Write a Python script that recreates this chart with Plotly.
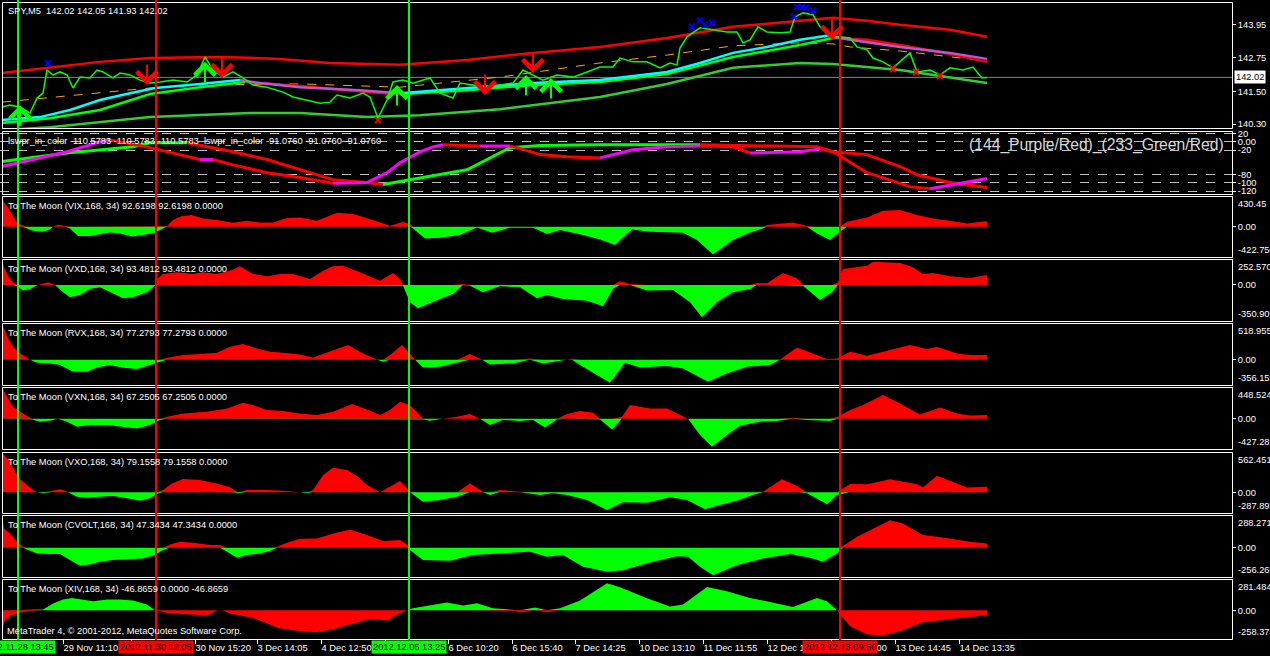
import plotly.graph_objects as go

W, H = 1270, 656
RED = "#FF0000"
LIME = "#00FF00"
FONT = "Liberation Sans, Arial, sans-serif"
FS = 9.3

# ---------------- main panel: SPY M5 ----------------
price_x = [2, 10, 20, 30, 37, 43, 47, 53, 60, 67, 73, 80, 90, 97, 103, 113, 120, 130, 140, 150,
           160, 173, 187, 197, 205, 213, 223, 233, 243, 253, 267, 283, 293, 307, 320, 330, 337, 350, 363, 370,
           378, 387, 393, 403, 413, 430, 440, 453, 460, 473, 487, 500, 513, 523, 533, 543, 557, 573, 587, 600,
           613, 620, 633, 647, 660, 670, 677, 680, 687, 700, 713, 727, 737, 743, 750, 758, 767, 780, 790, 795,
           803, 813, 820, 830, 840, 850, 857, 867, 873, 883, 893, 910, 917, 930, 940, 950, 963, 973, 982, 987]
price_y = [140.93, 141.00, 140.93, 140.71, 141.26, 141.44, 142.29, 142.11, 142.22, 142.11,
           141.63, 142.03, 142.00, 142.29, 142.22, 142.00, 142.18, 142.11, 141.92, 141.81,
           141.85, 141.92, 141.85, 142.11, 142.77, 142.29, 142.03, 142.22, 142.00, 141.74,
           141.66, 141.48, 141.30, 141.19, 141.07, 141.11, 141.37, 141.26, 141.44, 141.30,
           140.52, 141.19, 141.85, 141.92, 141.81, 142.00, 141.44, 141.26, 141.81, 141.74,
           141.66, 141.74, 141.81, 142.29, 142.11, 141.92, 142.11, 142.03, 142.22, 142.40,
           142.40, 142.73, 142.59, 142.59, 142.37, 142.55, 142.48, 143.10, 143.51, 143.84,
           143.77, 143.69, 143.69, 143.29, 143.40, 143.88, 143.69, 143.66, 143.69, 144.25,
           144.39, 144.32, 143.88, 143.51, 143.51, 143.47, 143.14, 143.03, 142.73, 142.59,
           142.37, 142.92, 142.22, 142.29, 142.11, 142.37, 142.29, 142.40, 142.00, 142.02]

band_hi_x = [2, 50, 100, 150, 220, 280, 330, 400, 467, 533, 600, 667, 733, 800, 833, 867, 900, 950, 987]
band_hi_y = [142.18, 142.37, 142.59, 142.73, 142.77, 142.70, 142.55, 142.48, 142.66, 142.92,
             143.14, 143.47, 143.88, 144.10, 144.21, 144.10, 143.95, 143.77, 143.51]

fast_x = [2, 40, 70, 100, 130, 155, 200, 240, 260, 300, 360, 400, 467, 533, 600, 667, 700, 733,
          767, 800, 827, 850, 900, 950, 987]
fast_y = [140.45, 140.56, 140.82, 141.19, 141.44, 141.63, 141.78, 141.92, 141.81, 141.66, 141.55,
          141.44, 141.63, 141.81, 141.92, 142.22, 142.55, 142.92, 143.14, 143.40, 143.55, 143.40,
          143.14, 142.92, 142.70]

mid_x = [2, 50, 100, 150, 200, 245, 300, 367, 400, 467, 533, 600, 667, 733, 767, 800, 833, 867, 900, 950, 987]
mid_y = [140.34, 140.52, 140.82, 141.41, 141.66, 141.85, 141.70, 141.48, 141.40, 141.55, 141.74,
         141.85, 142.14, 142.77, 142.99, 143.21, 143.47, 143.40, 143.21, 142.88, 142.59]

slow_x = [2, 100, 150, 200, 300, 400, 500, 600, 667, 733, 800, 833, 850, 900, 987]
slow_y = [141.11, 141.44, 141.63, 141.74, 141.78, 141.66, 142.03, 142.55, 142.84, 143.18, 143.29,
          143.25, 143.14, 142.99, 142.62]

band_lo_x = [2, 50, 150, 250, 300, 367, 420, 500, 600, 667, 733, 800, 833, 900, 987]
band_lo_y = [140.08, 140.19, 140.56, 140.71, 140.71, 140.56, 140.63, 140.85, 141.30, 141.78, 142.37,
             142.55, 142.51, 142.29, 141.81]

arrow_dn_x = [147, 222, 485, 533, 832]
arrow_dn_y = [141.74, 142.00, 141.37, 142.18, 143.40]
arrow_up_x = [20, 205, 397, 526, 551]
arrow_up_y = [141.00, 142.59, 141.74, 142.11, 142.00]
blue_x = [48, 692, 700, 705, 712, 794, 797, 802, 806, 813]
blue_y = [142.55, 143.88, 144.10, 143.95, 144.02, 144.25, 144.61, 144.61, 144.58, 144.47]
redx_x = [378, 893, 916, 940]
redx_y = [140.45, 142.33, 142.22, 142.07]

price_ticks = [143.95, 142.75, 141.50, 140.30]
last_price = 142.02

# ---------------- WPR panel ----------------
wpr_fast_x = [2, 33, 67, 100, 110, 150, 200, 213, 233, 267, 300, 333, 367, 387, 400, 420, 433, 443, 480,
              510, 517, 540, 567, 600, 633, 667, 700, 733, 750, 800, 820, 833, 867, 900, 910, 930, 960, 987]
wpr_fast_y = [-60, -43, -24, 0, 5, -14, -43, -43, -56, -75, -87, -101, -99, -75, -51, -24, -12, -7, -10,
              -10, -14, -31, -36, -39, -19, -12, -10, -12, -27, -24, -17, -24, -75, -101, -109, -114, -101, -89]
wpr_slow_x = [2, 67, 133, 150, 187, 233, 267, 300, 333, 367, 383, 400, 420, 467, 510, 540, 600, 700,
              760, 817, 833, 867, 900, 917, 950, 987]
wpr_slow_y = [-48, -27, -12, -2, -2, -24, -43, -68, -92, -99, -104, -97, -89, -68, -14, -9, -7, -7,
              -9, -12, -24, -31, -60, -80, -99, -111]
wpr_levels = [20, 0, -20, -80, -100, -120]
wpr_labels = ["20", "0.00", "-20", "-80", "-100", "-120"]

# ---------------- To The Moon panels ----------------
vix_x = [2, 4, 8, 12, 17, 22, 27, 33, 43, 50, 53, 58, 65, 70, 78, 90, 100, 110, 120, 132, 143, 155, 163,
         167, 173, 182, 192, 203, 217, 233, 247, 260, 273, 287, 300, 317, 337, 353, 373, 390, 403, 410, 413,
         425, 440, 460, 477, 492, 510, 533, 547, 560, 583, 600, 615, 632, 650, 667, 683, 697, 713, 733, 750,
         763, 767, 793, 807, 817, 830, 840, 847, 867, 883, 900, 917, 933, 950, 967, 987]
vix_v = [425, 340, 270, 170, 56, 24, -24, -56, -70, -38, 0, 28, 10, -24, -130, -130, -102, -80, -94, -136,
         -116, -84, -24, 10, 94, 150, 164, 116, 94, 56, 84, 60, 60, 122, 130, 84, 196, 178, 94, 14, 66, 38,
         -24, -164, -154, -116, -10, -84, -14, -14, -102, -46, -116, -178, -256, -38, -70, -80, -84, -186,
         -388, -186, -80, -24, 24, 60, 10, -94, -186, -70, 70, 130, 224, 234, 164, 116, 84, 46, 80]

vxd_x = [2, 4, 8, 13, 17, 23, 30, 38, 48, 55, 63, 70, 80, 90, 100, 110, 123, 133, 147, 155, 157, 163, 177,
         193, 203, 217, 230, 240, 253, 267, 280, 293, 310, 323, 333, 343, 360, 380, 393, 400, 403, 410, 418,
         440, 453, 463, 470, 483, 500, 520, 537, 547, 563, 587, 603, 613, 620, 630, 647, 673, 690, 702, 717,
         733, 750, 757, 767, 783, 797, 803, 820, 832, 838, 843, 867, 873, 900, 913, 923, 933, 950, 970, 987]
vxd_v = [250, 172, 90, 26, -13, -55, -39, 0, 26, 0, -71, -120, -97, -39, -22, -71, -129, -120, -71, -7,
         58, 107, 124, 107, 124, 107, 139, 182, 107, 85, 107, 107, 58, 139, 182, 188, 124, 42, 117, 58,
         -7, -168, -227, -136, -88, 10, -7, -71, -13, -22, -129, -97, -136, -153, -207, -39, 36, 10, -55,
         -49, -168, -314, -168, -71, -39, 19, 17, 117, 65, -7, -146, -71, 26, 156, 188, 227, 214, 172, 107,
         117, 85, 68, 97]

rvx_x = [2, 4, 8, 13, 18, 23, 30, 37, 50, 60, 73, 87, 97, 110, 123, 137, 150, 160, 167, 183, 200, 217,
         230, 243, 257, 270, 283, 300, 313, 330, 348, 363, 377, 383, 390, 402, 410, 415, 423, 440, 457, 470,
         482, 490, 513, 530, 543, 567, 572, 580, 593, 610, 625, 640, 667, 683, 700, 708, 727, 747, 770, 780,
         797, 810, 827, 837, 850, 867, 883, 910, 927, 937, 957, 970, 987]
rvx_v = [515, 442, 300, 183, 113, 66, 0, -42, -52, -75, -169, -169, -109, -75, -113, -131, -75, -28, 28,
         66, 80, 99, 183, 222, 159, 113, 99, 75, 33, 113, 207, 89, 4, -28, 66, 207, 89, 0, -109, -99, -42,
         80, 0, -66, -52, 18, -52, 0, 18, -75, -183, -325, -42, -109, -89, -123, -250, -310, -193, -99, -75,
         4, 174, 99, 10, 18, 113, 56, 113, 207, 151, 183, 89, 66, 66]

vxn_x = [2, 4, 7, 13, 20, 27, 32, 40, 50, 58, 67, 77, 90, 107, 123, 137, 150, 160, 167, 183, 207, 227,
         243, 253, 267, 283, 300, 317, 333, 352, 367, 380, 390, 400, 410, 423, 430, 443, 457, 470, 480, 490,
         503, 520, 533, 545, 557, 567, 580, 593, 600, 612, 622, 630, 650, 667, 688, 700, 712, 727, 740, 760,
         777, 793, 807, 830, 838, 850, 863, 883, 900, 920, 940, 957, 970, 987]
vxn_v = [440, 380, 311, 170, 99, 38, -10, -42, -28, 0, -42, -113, -89, -89, -113, -137, -89, -18, 28, 75,
         99, 146, 226, 194, 123, 109, 75, 52, 99, 208, 131, 52, 123, 240, 194, -10, -28, 0, 28, 66, 0, -89,
         -18, -32, -18, -123, -10, 66, 109, 85, -10, -151, 28, 194, 146, 146, 0, -230, -396, -230, -99, -42,
         -32, 14, -18, -32, 28, 123, 194, 335, 216, 61, 160, 75, 47, 52]

vxo_x = [2, 4, 10, 15, 20, 27, 33, 37, 43, 52, 60, 68, 77, 87, 100, 113, 127, 140, 150, 157, 163, 172,
         183, 200, 217, 230, 238, 247, 267, 283, 300, 307, 313, 323, 333, 347, 358, 367, 380, 390, 400, 410,
         423, 440, 457, 470, 483, 490, 500, 520, 540, 553, 567, 587, 607, 623, 647, 670, 687, 705, 720, 737,
         753, 763, 782, 797, 807, 827, 837, 850, 867, 890, 917, 923, 937, 950, 967, 987]
vxo_v = [555, 520, 428, 289, 185, 102, 32, 0, -14, 24, 42, 10, -60, -74, -60, -52, -84, -116, -84, -24,
         32, 125, 185, 171, 125, 70, -14, 32, 32, 24, 0, -14, 32, 240, 345, 311, 219, 102, 0, 79, 158, 10,
         -130, -107, -60, 125, 10, -38, 32, 10, -38, -14, -38, -107, -247, -139, -144, -70, -107, -237, -177,
         -116, -38, 10, 181, 88, -14, -167, -38, 116, 112, 181, 112, 70, 233, 163, 66, 79]

cvolt_x = [2, 4, 10, 17, 23, 27, 37, 50, 60, 70, 80, 90, 100, 113, 130, 143, 155, 163, 170, 180, 193,
           210, 220, 227, 237, 247, 260, 270, 277, 287, 300, 317, 333, 350, 367, 383, 400, 407, 410, 423,
           450, 473, 500, 530, 547, 563, 583, 607, 623, 650, 677, 688, 700, 713, 737, 763, 790, 810, 823,
           837, 843, 857, 890, 903, 923, 950, 970, 987]
cvolt_v = [285, 169, 126, 53, 9, -15, -50, -55, -55, -108, -158, -147, -123, -108, -99, -94, -64, -20, 29,
           53, 44, 24, 24, -35, -88, -64, -50, -29, 9, 44, 80, 82, 126, 161, 112, 61, 68, 29, -20, -108,
           -114, -64, -50, -35, -79, -64, -167, -211, -196, -130, -73, -79, -167, -240, -152, -94, -55, -88,
           -123, -50, 15, 97, 243, 213, 112, 82, 53, 38]

xiv_x = [2, 4, 10, 20, 30, 38, 43, 53, 63, 72, 80, 93, 107, 120, 133, 147, 155, 167, 187, 207, 217, 222,
         230, 243, 253, 265, 278, 300, 317, 333, 353, 370, 387, 400, 407, 413, 433, 447, 463, 477, 493, 513,
         520, 535, 547, 560, 580, 607, 620, 647, 670, 683, 700, 707, 727, 750, 770, 793, 817, 827, 837, 850,
         867, 883, 900, 923, 950, 983, 987]
xiv_v = [-255, -110, -50, -20, -8, 0, 6, 60, 96, 111, 102, 81, 96, 96, 87, 51, 0, -24, -39, -48, -3, 6,
         -30, -54, -70, -110, -160, -189, -198, -171, -117, -78, -93, -27, 0, 18, 48, 69, 42, 63, 18, -6,
         -21, 24, -18, 18, 87, 243, 207, 108, 33, 52, 168, 210, 171, 111, 75, 30, 111, 81, 0, -144, -219,
         -228, -189, -108, -78, -48, -48]

moon_names = ["VIX", "VXD", "RVX", "VXN", "VXO", "CVOLT", "XIV"]
moon_values = ["92.6198 92.6198 0.0000", "93.4812 93.4812 0.0000", "77.2793 77.2793 0.0000",
               "67.2505 67.2505 0.0000", "79.1558 79.1558 0.0000", "47.3434 47.3434 0.0000",
               "-46.8659 0.0000 -46.8659"]
moon_max = ["430.45", "252.570", "518.955", "448.524", "562.451", "288.271", "281.484"]
moon_min = ["-422.750", "-350.909", "-356.159", "-427.282", "-287.893", "-256.265", "-258.373"]
moon_series = [(vix_x, vix_v), (vxd_x, vxd_v), (rvx_x, rvx_v), (vxn_x, vxn_v),
               (vxo_x, vxo_v), (cvolt_x, cvolt_v), (xiv_x, xiv_v)]

# ---------------- time axis ----------------
time_ticks = [63, 131, 195, 257, 321, 385, 448, 512, 575, 639, 703, 767, 831, 895, 959]
time_labels = ["29 Nov 11:10", "", "30 Nov 15:20", "3 Dec 14:05", "4 Dec 12:50", "", "6 Dec 10:20",
               "6 Dec 15:40", "7 Dec 14:25", "10 Dec 13:10", "11 Dec 11:55", "12 Dec 10:40",
               "13 Dec 09:00", "13 Dec 14:45", "14 Dec 13:35"]
vline_x = [18, 156, 409, 840]
vline_color = [LIME, RED, LIME, RED]
vline_text = ["2012.11.28 13:45", "2012.11.30 12:05", "2012.12.05 13:25", "2012.12.13 09:50"]

# panel rows in pixels (top, bottom)
rows = [(2, 128), (131, 194), (196, 257), (259, 321), (323, 385), (387, 449), (452, 513), (515, 577), (579, 639)]


def dom(top, bottom):
    return [1 - bottom / H, 1 - top / H]


def runs(xs, ys, up, down, width, yaxis):
    # split a line into rising / falling pieces with different colours
    out = []
    i = 0
    while i < len(xs) - 1:
        rising = ys[i + 1] >= ys[i]
        j = i + 1
        while j < len(xs) - 1 and (ys[j + 1] >= ys[j]) == rising:
            j += 1
        out.append(go.Scatter(x=xs[i:j + 1], y=ys[i:j + 1], mode="lines",
                              line=dict(color=up if rising else down, width=width), yaxis=yaxis))
        i = j
    return out


fig = go.Figure()

# main panel
fig.add_trace(go.Scatter(x=band_lo_x, y=band_lo_y, mode="lines", line=dict(color="#32CD32", width=2.5), yaxis="y"))
fig.add_trace(go.Scatter(x=slow_x, y=slow_y, mode="lines", line=dict(color="#FFA500", width=1, dash="dash"), yaxis="y"))
for t in runs(mid_x, mid_y, LIME, RED, 2.5, "y"):
    fig.add_trace(t)
for t in runs(fast_x, fast_y, "#00FFFF", "#BA55D3", 2.5, "y"):
    fig.add_trace(t)
fig.add_trace(go.Scatter(x=band_hi_x, y=band_hi_y, mode="lines", line=dict(color=RED, width=2.5), yaxis="y"))
fig.add_trace(go.Scatter(x=price_x, y=price_y, mode="lines", line=dict(color=LIME, width=1.5), yaxis="y"))
fig.add_trace(go.Scatter(x=blue_x, y=blue_y, mode="markers", yaxis="y",
                         marker=dict(symbol="x-thin", size=6, line=dict(color="#0000FF", width=2))))
fig.add_trace(go.Scatter(x=redx_x, y=redx_y, mode="markers", yaxis="y",
                         marker=dict(symbol="x-thin", size=6, line=dict(color=RED, width=2))))

# WPR panel
for t in runs(wpr_slow_x, wpr_slow_y, LIME, RED, 3, "y2"):
    fig.add_trace(t)
for t in runs(wpr_fast_x, wpr_fast_y, "#FF00FF", RED, 3, "y2"):
    fig.add_trace(t)

# To The Moon panels: filled histograms
for k, (xs, vs) in enumerate(moon_series):
    ya = "y%d" % (k + 3)
    up_c, dn_c = (LIME, RED) if moon_names[k] == "XIV" else (RED, LIME)
    fig.add_trace(go.Scatter(x=xs, y=[max(v, 0) for v in vs], mode="lines", fill="tozeroy",
                             fillcolor=up_c, line=dict(width=0, color=up_c), yaxis=ya))
    fig.add_trace(go.Scatter(x=xs, y=[min(v, 0) for v in vs], mode="lines", fill="tozeroy",
                             fillcolor=dn_c, line=dict(width=0, color=dn_c), yaxis=ya))

tickfont = dict(family=FONT, size=FS, color="white")
layout = dict(
    width=W, height=H, template="none", margin=dict(l=0, r=0, t=0, b=0),
    paper_bgcolor="black", plot_bgcolor="black", showlegend=False, hovermode=False,
    font=dict(family=FONT, size=FS, color="white"),
    xaxis=dict(domain=[0, 1232 / W], range=[0, 1232], anchor="y9", showgrid=False, zeroline=False,
               showline=False, ticks="outside", ticklen=4, tickcolor="white", tickwidth=1,
               tickvals=time_ticks, ticktext=time_labels, ticklabelposition="outside right",
               tickangle=0, tickfont=tickfont, fixedrange=True),
)
yax_common = dict(side="right", anchor="x", showgrid=False, zeroline=False, showline=False,
                  ticks="outside", ticklen=3, tickcolor="white", tickfont=tickfont, fixedrange=True)

layout["yaxis"] = dict(yax_common, domain=dom(*rows[0]), range=[140.16, 144.79],
                       tickvals=price_ticks, ticktext=["%.2f" % p for p in price_ticks])
layout["yaxis2"] = dict(yax_common, domain=dom(*rows[1]), range=[-127, 26.6],
                        tickvals=wpr_levels, ticktext=wpr_labels, showgrid=True,
                        gridcolor="#BDBDBD", griddash="dash", gridwidth=1)
for k in range(7):
    top, bottom = rows[k + 2]
    layout["yaxis%d" % (k + 3)] = dict(yax_common, domain=dom(top, bottom),
                                        range=[float(moon_min[k]), float(moon_max[k])],
                                        tickvals=[0], ticktext=["0.00"])

shapes = []
# bid line
shapes.append(dict(type="line", xref="paper", yref="y", x0=2 / W, x1=1232 / W, y0=last_price, y1=last_price,
                   line=dict(color="#778899", width=1), layer="below"))
# panel borders
for top, bottom in rows:
    shapes.append(dict(type="rect", xref="paper", yref="paper", x0=2.5 / W, x1=1232.5 / W,
                       y0=1 - (bottom + 0.5) / H, y1=1 - (top + 0.5) / H,
                       line=dict(color="white", width=1), layer="above"))
# vertical time lines
for vx, vc in zip(vline_x, vline_color):
    shapes.append(dict(type="line", xref="x", yref="paper", x0=vx, x1=vx, y0=1 - 640 / H, y1=1,
                       line=dict(color=vc, width=2), layer="above"))
layout["shapes"] = shapes

ann = []


def label(text, px, py, anchor="left", size=FS, color="white"):
    ann.append(dict(text=text, xref="paper", yref="paper", x=px / W, y=1 - py / H, xanchor=anchor,
                    yanchor="middle", showarrow=False, font=dict(family=FONT, size=size, color=color)))


label("SPY,M5  142.02 142.05 141.93 142.02", 6, 11)
label("lswpr_in_color -110.5783 -110.5783 -110.5783  lswpr_in_color -91.0760 -91.0760 -91.0760", 6, 141)
label("(144_Purple/Red)_(233_Green/Red)", 1226, 145, anchor="right", size=15.7, color="#D8D8D8")
for k in range(7):
    top, bottom = rows[k + 2]
    label("To The Moon (%s,168, 34) %s" % (moon_names[k], moon_values[k]), 6, top + 10)
    label(moon_max[k], 1236, top + 8)
    label(moon_min[k], 1236, bottom - 7)
label("MetaTrader 4, \u00a9 2001-2012, MetaQuotes Software Corp.", 5, 631)

# current price box
ann.append(dict(text="142.02", xref="paper", yref="y", x=1234 / W, y=last_price, xanchor="left",
                yanchor="middle", showarrow=False, bgcolor="white", borderpad=1,
                font=dict(family=FONT, size=FS, color="black")))

# vertical line date boxes
for vx, vc, vt in zip(vline_x, vline_color, vline_text):
    ann.append(dict(text=vt, xref="x", yref="paper", x=vx, y=1 - 647 / H, xanchor="center",
                    yanchor="middle", showarrow=False, bgcolor=vc, borderpad=1,
                    font=dict(family=FONT, size=FS, color="black")))

# signal arrows
for ax_, ay_ in zip(arrow_dn_x, arrow_dn_y):
    ann.append(dict(x=ax_, y=ay_, xref="x", yref="y", text="", showarrow=True, arrowhead=4,
                    arrowsize=2, arrowwidth=2, arrowcolor=RED, ax=0, ay=-22))
for ax_, ay_ in zip(arrow_up_x, arrow_up_y):
    ann.append(dict(x=ax_, y=ay_, xref="x", yref="y", text="", showarrow=True, arrowhead=4,
                    arrowsize=2, arrowwidth=2, arrowcolor=LIME, ax=0, ay=22))

layout["annotations"] = ann
fig.update_layout(**layout)
fig.write_html("out.html", config={"displayModeBar": False},
               post_script="document.body.style.margin='0';")
